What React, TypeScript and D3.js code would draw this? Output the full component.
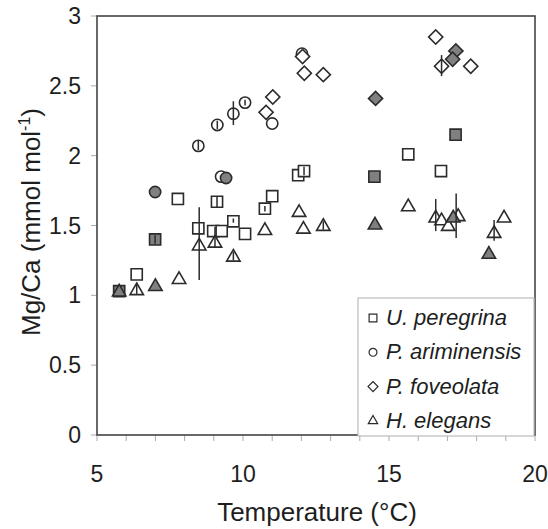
import React from "react";
import * as d3 from "d3";

// U. peregrina (squares)
const perOpen = [[6.36, 1.15], [7.77, 1.69], [9.11, 1.67], [8.47, 1.48], [8.98, 1.46], [9.27, 1.46], [9.67, 1.53], [10.07, 1.44], [10.75, 1.62], [11.0, 1.71], [11.89, 1.86], [12.09, 1.89], [15.66, 2.01], [16.78, 1.89]];
const perFilled = [[5.76, 1.03], [6.99, 1.4], [14.5, 1.85], [17.28, 2.15]];
// P. ariminensis (circles)
const ariOpen = [[8.47, 2.07], [9.12, 2.22], [9.67, 2.3], [10.07, 2.38], [11.0, 2.23], [12.02, 2.73], [9.25, 1.85]];
const ariFilled = [[6.99, 1.74], [9.42, 1.84]];
// P. foveolata (diamonds)
const fovOpen = [[10.79, 2.31], [11.02, 2.42], [12.04, 2.71], [12.1, 2.59], [12.75, 2.58], [16.6, 2.85], [16.8, 2.64], [17.8, 2.64]];
const fovFilled = [[14.54, 2.41], [17.29, 2.75], [17.18, 2.69]];
// H. elegans (triangles)
const eleOpen = [[6.36, 1.04], [7.81, 1.12], [8.5, 1.36], [9.04, 1.38], [9.67, 1.28], [10.75, 1.47], [11.92, 1.6], [12.07, 1.48], [12.75, 1.5], [15.66, 1.64], [16.6, 1.56], [16.8, 1.54], [17.03, 1.5], [17.37, 1.57], [18.94, 1.56], [18.6, 1.45]];
const eleFilled = [[5.76, 1.03], [7.0, 1.07], [14.52, 1.51], [17.2, 1.56], [18.42, 1.3]];

// error bars: temperature, low, high
const errorBars = [[8.5, 1.11, 1.63], [9.67, 2.22, 2.39], [16.6, 1.46, 1.69], [17.3, 1.41, 1.73], [18.6, 1.39, 1.54], [16.8, 2.57, 2.72],
  [9.11, 1.63, 1.71], [9.04, 1.34, 1.49], [8.47, 2.04, 2.11], [9.12, 2.19, 2.25], [9.67, 1.25, 1.31], [12.75, 1.47, 1.53],
  [6.36, 1.01, 1.08], [6.99, 1.37, 1.43], [12.09, 1.86, 1.92], [10.07, 2.36, 2.4], [10.75, 1.6, 1.64], [9.67, 1.52, 1.55]];

const xTicks = [5, 10, 15, 20];
const yTicks = [0, 0.5, 1, 1.5, 2, 2.5, 3];
const legendNames = ["U. peregrina", "P. ariminensis", "P. foveolata", "H. elegans"];

const x = d3.scaleLinear().domain([5, 20]).range([97, 535]);
const y = d3.scaleLinear().domain([0, 3]).range([435, 16]);

const STROKE = "#2b2b2b";
const GREY = "#808080";
const TXT = "#1e1e1e";

function markerPath(kind: string, scale = 1) {
  if (kind === "square") return d3.symbol(d3.symbolSquare, 124 * scale * scale)()!;
  if (kind === "circle") return d3.symbol(d3.symbolCircle, 100 * scale * scale)()!;
  if (kind === "diamond") return d3.symbol(d3.symbolSquare, 100 * scale * scale)()!;
  return d3.symbol(d3.symbolTriangle, 78 * scale * scale)()!;
}

function Marks({ data, kind, filled }: { data: number[][]; kind: string; filled: boolean }) {
  const p = markerPath(kind);
  return (
    <g>
      {data.map((d, i) => (
        <path key={i} d={p}
          transform={`translate(${x(d[0])},${y(d[1])})${kind === "diamond" ? " rotate(45)" : ""}${kind === "triangle" ? " translate(0,1)" : ""}`}
          fill={filled ? GREY : "#fff"} stroke={STROKE} strokeWidth={1.6} />
      ))}
    </g>
  );
}

export default function App() {
  const minor = d3.range(5, 21, 1);
  const kinds = ["square", "circle", "diamond", "triangle"];
  return (
    <svg width={548} height={529} style={{ position: "absolute", left: 0, top: 0, background: "#fff" }}
      fontFamily="'Liberation Sans', Arial, sans-serif">
      {/* ticks */}
      {yTicks.map(t => (
        <g key={t}>
          <line x1={91} x2={97} y1={y(t)} y2={y(t)} stroke="#aaa" />
          <text x={81} y={y(t) + 8} textAnchor="end" fontSize={23} fill={TXT}>{t}</text>
        </g>
      ))}
      {minor.map(t => (
        <line key={t} x1={x(t)} x2={x(t)} y1={435} y2={441} stroke="#aaa" />
      ))}
      {xTicks.map(t => (
        <text key={t} x={x(t)} y={482} textAnchor="middle" fontSize={23} fill={TXT}>{t}</text>
      ))}
      <rect x={97} y={16} width={438} height={419} fill="none" stroke="#444" strokeWidth={1.6} />

      <Marks data={perOpen} kind="square" filled={false} />
      <Marks data={perFilled} kind="square" filled={true} />
      <Marks data={eleOpen} kind="triangle" filled={false} />
      <Marks data={eleFilled} kind="triangle" filled={true} />
      <Marks data={ariOpen} kind="circle" filled={false} />
      <Marks data={ariFilled} kind="circle" filled={true} />
      <Marks data={fovOpen} kind="diamond" filled={false} />
      <Marks data={fovFilled} kind="diamond" filled={true} />
      {errorBars.map((e, i) => (
        <line key={i} x1={x(e[0])} x2={x(e[0])} y1={y(e[1])} y2={y(e[2])} stroke={STROKE} strokeWidth={1.5} />
      ))}

      {/* legend */}
      <rect x={358} y={298} width={176} height={138} fill="#fff" stroke="#bbb" strokeWidth={1.2} />
      {legendNames.map((n, i) => (
        <g key={n} transform={`translate(0,${325 + i * 34.3})`}>
          <path d={markerPath(kinds[i], 0.7)} transform={`translate(373,-7)${kinds[i] === "diamond" ? " rotate(45)" : ""}`}
            fill="#fff" stroke={STROKE} strokeWidth={1.2} />
          <text x={386} y={0} fontSize={22} fontStyle="italic" fill={TXT}>{n}</text>
        </g>
      ))}

      <text x={317} y={521} textAnchor="middle" fontSize={26} fill={TXT}>Temperature (°C)</text>
      <text transform="translate(40,222) rotate(-90)" textAnchor="middle" fontSize={26} fill={TXT}>
        Mg/Ca (mmol mol<tspan dy={-10} fontSize={16}>-1</tspan><tspan dy={10}>)</tspan>
      </text>
    </svg>
  );
}
